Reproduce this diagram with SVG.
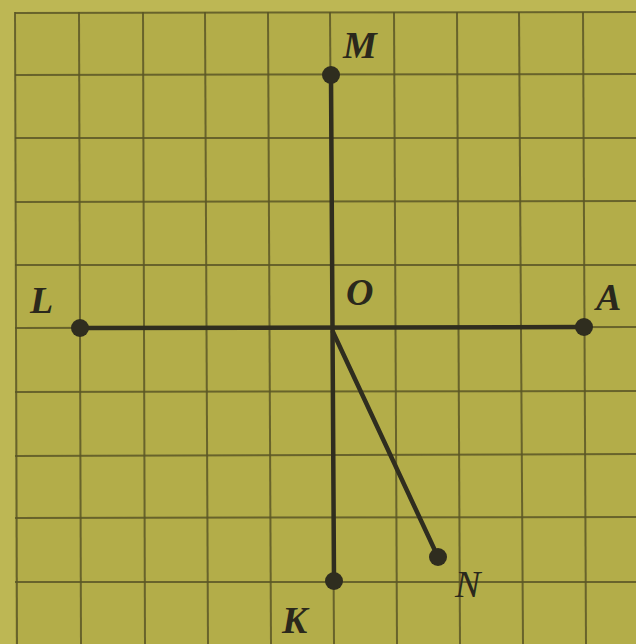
<svg xmlns="http://www.w3.org/2000/svg" width="636" height="644" viewBox="0 0 636 644">
<style>
.grid line{stroke:#5b5626;stroke-width:2;stroke-opacity:0.85}
.seg{stroke:#2f2d1f;stroke-width:4.5;stroke-linecap:round;fill:none}
.pt{fill:#2f2d1f}
.lbl{font-family:"Liberation Serif",serif;font-style:italic;font-weight:bold;font-size:38px;fill:#2a281c}
</style>
<rect width="636" height="644" fill="#b3ad49"/>
<rect x="0" y="0" width="636" height="12" fill="#bdb754"/>
<rect x="0" y="0" width="15" height="644" fill="#bdb754"/>
<g class="grid">
<line x1="15" y1="12" x2="17" y2="644"/>
<line x1="79" y1="12" x2="81" y2="644"/>
<line x1="143" y1="12" x2="145" y2="644"/>
<line x1="205" y1="12" x2="208" y2="644"/>
<line x1="268" y1="12" x2="271" y2="644"/>
<line x1="330" y1="12" x2="334" y2="644"/>
<line x1="394" y1="12" x2="397" y2="644"/>
<line x1="457" y1="12" x2="460" y2="644"/>
<line x1="519" y1="12" x2="523" y2="644"/>
<line x1="583" y1="12" x2="586" y2="644"/>
<line x1="15" y1="13" x2="636" y2="12"/>
<line x1="15" y1="75" x2="636" y2="74"/>
<line x1="15" y1="138" x2="636" y2="138"/>
<line x1="15" y1="202" x2="636" y2="201"/>
<line x1="15" y1="265" x2="636" y2="265"/>
<line x1="15" y1="328" x2="636" y2="327"/>
<line x1="15" y1="392" x2="636" y2="391"/>
<line x1="15" y1="456" x2="636" y2="454"/>
<line x1="15" y1="518" x2="636" y2="517"/>
<line x1="15" y1="582" x2="636" y2="582"/>
</g>
<g id="connectors">
<line class="seg" x1="331" y1="75" x2="334" y2="581"/>
<line class="seg" x1="80" y1="328" x2="584" y2="327"/>
<line class="seg" x1="333" y1="332" x2="438" y2="557"/>
</g>
<g id="M"><circle class="pt" cx="331" cy="75" r="9"/><text class="lbl" x="343" y="58">M</text></g>
<g id="L"><circle class="pt" cx="80" cy="328" r="9"/><text class="lbl" x="30" y="313">L</text></g>
<g id="O"><text class="lbl" x="346" y="305">O</text></g>
<g id="A"><circle class="pt" cx="584" cy="327" r="9"/><text class="lbl" x="596" y="310">A</text></g>
<g id="K"><circle class="pt" cx="334" cy="581" r="9"/><text class="lbl" x="282" y="633">K</text></g>
<g id="N"><circle class="pt" cx="438" cy="557" r="9"/><text class="lbl" x="455" y="597" style="font-weight:normal">N</text></g>
</svg>
